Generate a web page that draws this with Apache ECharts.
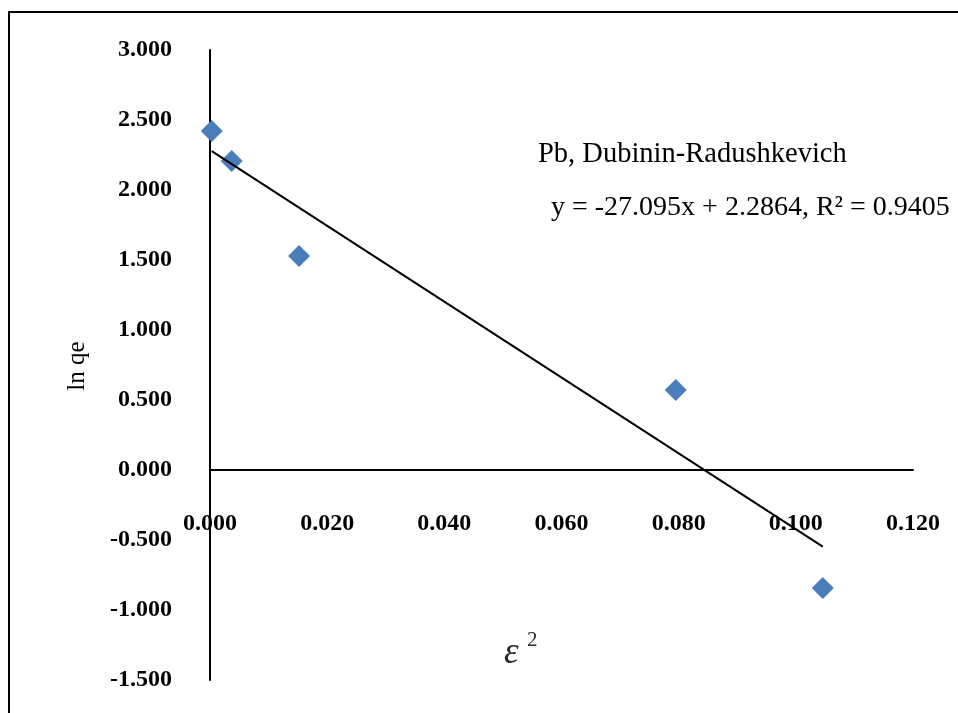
<!DOCTYPE html>
<html>
<head>
<meta charset="utf-8">
<script src="https://cdn.jsdelivr.net/npm/echarts@6/dist/echarts.min.js"></script>
<style>
  html, body { margin: 0; padding: 0; background: #fff; }
  #chart { width: 958px; height: 713px; }
</style>
</head>
<body>
<div id="chart"></div>
<script>
// Measured points: epsilon squared vs ln qe
const epsSquared = [0.0003, 0.0037, 0.0152, 0.0795, 0.1046];
const lnQe = [2.421, 2.207, 1.529, 0.571, -0.843];

// Linear fit reported for the data set
const fitSlope = -27.095;
const fitIntercept = 2.2864;
const fitR2 = 0.9405;

// Axis ranges
const xRange = [0, 0.12, 0.02];
const yRange = [-1.5, 3.0, 0.5];

const serif = '"Times New Roman", "Liberation Serif", serif';

const xMin = Math.min(...epsSquared);
const xMax = Math.max(...epsSquared);
const fitLine = [
  [xMin, fitSlope * xMin + fitIntercept],
  [xMax, fitSlope * xMax + fitIntercept]
];

const tickLabel = {
  color: '#000',
  fontFamily: serif,
  fontWeight: 'bold',
  fontSize: 24,
  formatter: v => v.toFixed(3)
};

const chart = echarts.init(document.getElementById('chart'));
chart.setOption({
  animation: false,
  backgroundColor: '#fff',
  grid: { left: 210, right: 45, top: 50, bottom: 33, containLabel: false, outerBoundsMode: 'none' },
  xAxis: [
    {
      // axis line crossing at y = 0
      type: 'value',
      min: xRange[0], max: xRange[1], interval: xRange[2],
      axisLine: { show: true, onZero: true, lineStyle: { color: '#000', width: 2 } },
      axisTick: { show: false },
      splitLine: { show: false },
      axisLabel: { show: false }
    },
    {
      // tick labels placed just below the zero line
      type: 'value',
      position: 'bottom',
      offset: -169,
      min: xRange[0], max: xRange[1], interval: xRange[2],
      axisLine: { show: false, onZero: false },
      axisTick: { show: false },
      splitLine: { show: false },
      axisLabel: Object.assign({ margin: 1 }, tickLabel)
    }
  ],
  yAxis: {
    type: 'value',
    min: yRange[0], max: yRange[1], interval: yRange[2],
    axisLine: { show: true, onZero: false, lineStyle: { color: '#000', width: 2 } },
    axisTick: { show: false },
    splitLine: { show: false },
    axisLabel: Object.assign({ margin: 38 }, tickLabel)
  },
  graphic: [
    {
      type: 'polyline',
      shape: { points: [[9, 713], [9, 12], [958, 12]] },
      style: { stroke: '#000', lineWidth: 2, fill: null },
      silent: true
    },
    {
      type: 'text',
      x: 77, y: 366,
      rotation: Math.PI / 2,
      style: {
        text: 'ln qe',
        fontFamily: serif,
        fontSize: 25,
        fill: '#000',
        align: 'center',
        verticalAlign: 'middle'
      }
    },
    {
      type: 'text',
      x: 504, y: 653,
      style: {
        text: 'ε',
        fontFamily: serif,
        fontStyle: 'italic',
        fontSize: 37,
        fill: '#2a2a2a',
        verticalAlign: 'middle'
      }
    },
    {
      type: 'text',
      x: 527, y: 640,
      style: {
        text: '2',
        fontFamily: serif,
        fontSize: 21,
        fill: '#2a2a2a',
        verticalAlign: 'middle'
      }
    },
    {
      type: 'text',
      x: 538, y: 155,
      style: {
        text: 'Pb, Dubinin-Radushkevich',
        fontFamily: serif,
        fontSize: 28.5,
        fill: '#000',
        verticalAlign: 'middle'
      }
    },
    {
      type: 'text',
      x: 551, y: 208,
      style: {
        text: 'y = ' + fitSlope + 'x + ' + fitIntercept + ', R² = ' + fitR2,
        fontFamily: serif,
        fontSize: 28,
        fill: '#000',
        verticalAlign: 'middle'
      }
    }
  ],
  series: [
    {
      type: 'line',
      data: fitLine,
      showSymbol: false,
      symbol: 'none',
      lineStyle: { color: '#000', width: 2 },
      z: 3
    },
    {
      type: 'scatter',
      data: epsSquared.map((x, i) => [x, lnQe[i]]),
      symbol: 'diamond',
      symbolSize: [22, 22],
      itemStyle: { color: '#4a7ebb', opacity: 1 },
      z: 2
    }
  ]
});
</script>
</body>
</html>
